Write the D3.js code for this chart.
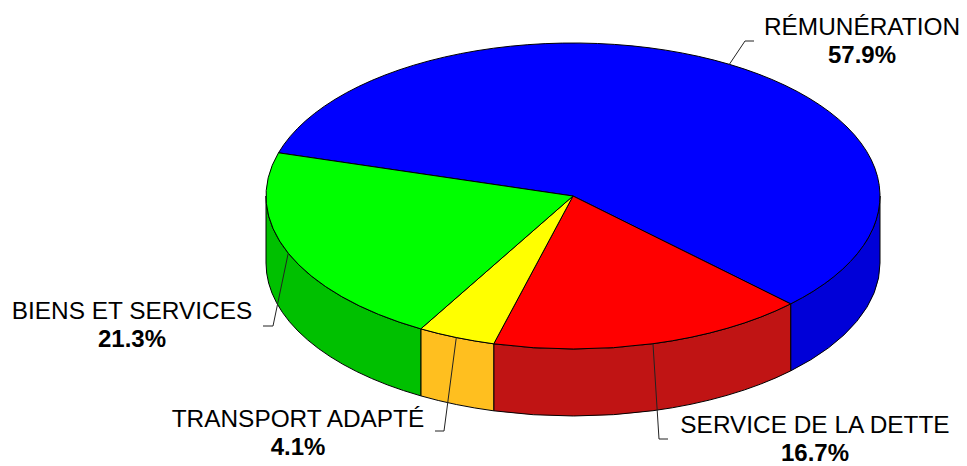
<!DOCTYPE html>
<html lang="fr">
<head>
  <meta charset="UTF-8">
  <title>Répartition des dépenses</title>
  <script src="https://cdn.jsdelivr.net/npm/d3@7"></script>
  <style>
    body { margin: 0; background: #fff; }
    svg text { font-family: Arial, "Liberation Sans", sans-serif; fill: #000; }
  </style>
</head>
<body>
<div id="chart"></div>

<script type="text/javascript">
// data
var categories = ["RÉMUNÉRATION", "SERVICE DE LA DETTE", "TRANSPORT ADAPTÉ", "BIENS ET SERVICES"];
var values = [57.9, 16.7, 4.1, 21.3];
var topColors = ["#0000ff", "#ff0000", "#ffff00", "#00ff00"];
var sideColors = ["#0000d8", "#c01414", "#ffbf1f", "#00c000"];

// label placement (name center / baselines, leader elbow and end)
var labelLayout = [
  {x: 862, y: 35, elbow: [745, 41], end: [754, 41]},
  {x: 815, y: 433, elbow: [659, 439], end: [668, 439]},
  {x: 298, y: 427, elbow: [444, 431], end: [435, 431]},
  {x: 132, y: 319, elbow: [273, 326], end: [263, 326]}
];

var width = 967, height = 466;
var cx = 573, cy = 196, rx = 307, ry = 153, depth = 67;

var svg = d3.select("#chart").append("svg")
  .attr("width", width)
  .attr("height", height);

var deg = Math.PI / 180;
var pie = d3.pie().sort(null).startAngle(-73.6 * deg).endAngle((360 - 73.6) * deg);
var arcs = pie(values);

function pt(a, dy) {
  return [cx + rx * Math.sin(a), cy - ry * Math.cos(a) + (dy || 0)];
}

function topPath(d) {
  var p0 = pt(d.startAngle), p1 = pt(d.endAngle);
  var large = (d.endAngle - d.startAngle) > Math.PI ? 1 : 0;
  return "M" + cx + "," + cy + "L" + p0 + "A" + rx + "," + ry + " 0 " + large + " 1 " + p1 + "Z";
}

// visible part of the wall: front half, angles 90..270 deg
function sidePath(d) {
  var out = "";
  [-2 * Math.PI, 0, 2 * Math.PI].forEach(function(shift) {
    var s = Math.max(d.startAngle + shift, Math.PI / 2);
    var e = Math.min(d.endAngle + shift, 3 * Math.PI / 2);
    if (e <= s) return;
    out += "M" + pt(s) + "A" + rx + "," + ry + " 0 0 1 " + pt(e) +
      "L" + pt(e, depth) + "A" + rx + "," + ry + " 0 0 0 " + pt(s, depth) + "Z";
  });
  return out;
}

// walls
svg.selectAll("path.side")
  .data(arcs)
  .enter()
  .append("path")
  .attr("class", "side")
  .attr("d", sidePath)
  .attr("fill", function(d, i) { return sideColors[i]; })
  .attr("stroke", "#000")
  .attr("stroke-width", 1)
  .attr("stroke-linejoin", "round");

// top face
svg.selectAll("path.top")
  .data(arcs)
  .enter()
  .append("path")
  .attr("class", "top")
  .attr("d", topPath)
  .attr("fill", function(d, i) { return topColors[i]; })
  .attr("stroke", "#000")
  .attr("stroke-width", 1)
  .attr("stroke-linejoin", "round");

// leader lines
svg.selectAll("polyline.leader")
  .data(arcs)
  .enter()
  .append("polyline")
  .attr("class", "leader")
  .attr("points", function(d, i) {
    var m = pt((d.startAngle + d.endAngle) / 2);
    var L = labelLayout[i];
    return [m, L.elbow, L.end].join(" ");
  })
  .attr("fill", "none")
  .attr("stroke", "#222")
  .attr("stroke-width", 1);

// labels
var labels = svg.selectAll("g.label")
  .data(arcs)
  .enter()
  .append("g")
  .attr("class", "label");

labels.append("text")
  .attr("x", function(d, i) { return labelLayout[i].x; })
  .attr("y", function(d, i) { return labelLayout[i].y; })
  .attr("text-anchor", "middle")
  .style("font-size", "24.4px")
  .text(function(d, i) { return categories[i]; });

labels.append("text")
  .attr("x", function(d, i) { return labelLayout[i].x; })
  .attr("y", function(d, i) { return labelLayout[i].y + 28; })
  .attr("text-anchor", "middle")
  .style("font-size", "24px")
  .style("font-weight", "bold")
  .text(function(d, i) { return d3.format(".1f")(values[i]) + "%"; });
</script>
</body>
</html>
